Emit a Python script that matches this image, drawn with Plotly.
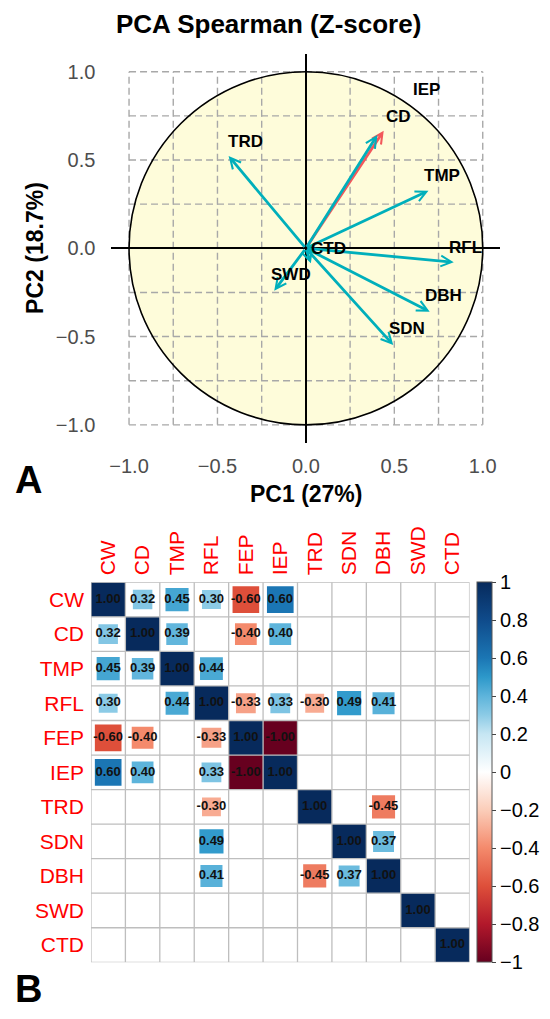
import math
import plotly.graph_objects as go
from plotly.colors import sample_colorscale

# ---------------- Panel A data (PCA variable loadings) ----------------
pca_vars = ["IEP", "TRD", "CD", "TMP", "RFL", "DBH", "SDN", "SWD", "CTD"]
pc1 = [0.44, -0.437, 0.404, 0.693, 0.836, 0.70, 0.494, -0.179, 0.028]
pc2 = [0.666, 0.523, 0.642, 0.326, -0.079, -0.359, -0.548, -0.24, -0.085]
arrow_colour_group = ["red", "teal", "teal", "teal", "teal", "teal", "teal", "teal", "teal"]

# label placement (repelled labels)
label_names = ["TRD", "CD", "IEP", "TMP", "RFL", "DBH", "SDN", "SWD", "CTD"]
label_x = [-0.344, 0.526, 0.682, 0.772, 0.905, 0.776, 0.573, -0.085, 0.128]
label_y = [0.604, 0.746, 0.901, 0.411, 0.004, -0.270, -0.453, -0.151, 0.0]

pca_ticks = [-1.0, -0.5, 0.0, 0.5, 1.0]
pca_ticktext = ["\u22121.0", "\u22120.5", "0.0", "0.5", "1.0"]
grid_vals = [-1.0, -0.75, -0.5, -0.25, 0.0, 0.25, 0.5, 0.75, 1.0]

# ---------------- Panel B data (Spearman correlation matrix) ----------------
traits = ["CW", "CD", "TMP", "RFL", "FEP", "IEP", "TRD", "SDN", "DBH", "SWD", "CTD"]
N = None
corr = [
    [1.00, 0.32, 0.45, 0.30, -0.60, 0.60, N, N, N, N, N],
    [0.32, 1.00, 0.39, N, -0.40, 0.40, N, N, N, N, N],
    [0.45, 0.39, 1.00, 0.44, N, N, N, N, N, N, N],
    [0.30, N, 0.44, 1.00, -0.33, 0.33, -0.30, 0.49, 0.41, N, N],
    [-0.60, -0.40, N, -0.33, 1.00, -1.00, N, N, N, N, N],
    [0.60, 0.40, N, 0.33, -1.00, 1.00, N, N, N, N, N],
    [N, N, N, -0.30, N, N, 1.00, N, -0.45, N, N],
    [N, N, N, 0.49, N, N, N, 1.00, 0.37, N, N],
    [N, N, N, 0.41, N, N, -0.45, 0.37, 1.00, N, N],
    [N, N, N, N, N, N, N, N, N, 1.00, N],
    [N, N, N, N, N, N, N, N, N, N, 1.00],
]
cbar_ticks = [1, 0.8, 0.6, 0.4, 0.2, 0, -0.2, -0.4, -0.6, -0.8, -1]
cbar_ticktext = ["1", "0.8", "0.6", "0.4", "0.2", "0",
                 "\u22120.2", "\u22120.4", "\u22120.6", "\u22120.8", "\u22121"]

# ---------------- styles ----------------
FONT = "Liberation Sans, Arial, sans-serif"
W, H = 550, 1019
TEAL = "#00AFBB"
RED = "#F2585B"
colorscale = [
    [0.00, "#67001F"], [0.10, "#B2182B"], [0.20, "#DE4F3A"], [0.30, "#F48A6C"],
    [0.40, "#FBCDB9"], [0.50, "#FFFFFF"], [0.60, "#C6E6F3"], [0.65, "#8CCBE6"],
    [0.70, "#5DB4DB"], [0.75, "#2D98CA"], [0.80, "#1B76B4"], [0.90, "#0F4B8B"],
    [1.00, "#072A5C"],
]


def px_x(p):
    return p / W


def px_y(p):
    return 1 - p / H


fig = go.Figure()
shapes = []
annotations = []

# ---------- Panel A ----------
shapes.append(dict(type="circle", xref="x", yref="y", x0=-1, x1=1, y0=-1, y1=1,
                   fillcolor="#FEFCDA", line=dict(width=0), layer="below"))
for g in grid_vals:
    shapes.append(dict(type="line", xref="x", yref="y", x0=g, x1=g, y0=-1, y1=1,
                       line=dict(color="#A8A8A8", width=1.4, dash="7px,4px"), layer="below"))
    shapes.append(dict(type="line", xref="x", yref="y", x0=-1, x1=1, y0=g, y1=g,
                       line=dict(color="#A8A8A8", width=1.4, dash="7px,4px"), layer="below"))
shapes.append(dict(type="circle", xref="x", yref="y", x0=-1, x1=1, y0=-1, y1=1,
                   line=dict(color="black", width=1.6), layer="below"))

for name, a, b, grp in zip(pca_vars, pc1, pc2, arrow_colour_group):
    annotations.append(dict(
        x=a, y=b, xref="x", yref="y", ax=0, ay=0, axref="x", ayref="y",
        text="", showarrow=True, arrowhead=5, arrowsize=0.75, arrowwidth=2.8,
        arrowcolor=RED if grp == "red" else TEAL, standoff=0, startstandoff=0))

for name, lx, ly in zip(label_names, label_x, label_y):
    annotations.append(dict(x=lx, y=ly, xref="x", yref="y", text=f"<b>{name}</b>",
                            showarrow=False, font=dict(size=17, color="black", family=FONT),
                            xanchor="center", yanchor="middle"))

annotations.append(dict(x=px_x(267), y=px_y(24), xref="paper", yref="paper",
                        text="<b>PCA Spearman (Z-score)</b>", showarrow=False,
                        font=dict(size=26, color="black", family=FONT),
                        xanchor="center", yanchor="middle"))
annotations.append(dict(x=px_x(305), y=px_y(494), xref="paper", yref="paper",
                        text="<b>PC1 (27%)</b>", showarrow=False,
                        font=dict(size=23, color="black", family=FONT),
                        xanchor="center", yanchor="middle"))
annotations.append(dict(x=px_x(33), y=px_y(248), xref="paper", yref="paper",
                        text="<b>PC2 (18.7%)</b>", showarrow=False, textangle=-90,
                        font=dict(size=23, color="black", family=FONT),
                        xanchor="center", yanchor="middle"))
annotations.append(dict(x=px_x(27), y=px_y(480), xref="paper", yref="paper",
                        text="<b>A</b>", showarrow=False,
                        font=dict(size=38, color="black", family=FONT),
                        xanchor="center", yanchor="middle"))
annotations.append(dict(x=px_x(27), y=px_y(989), xref="paper", yref="paper",
                        text="<b>B</b>", showarrow=False,
                        font=dict(size=38, color="black", family=FONT),
                        xanchor="center", yanchor="middle"))

# ---------- Panel B ----------
n = len(traits)
tx, ty, tt = [], [], []
for i, row in enumerate(corr):
    for j, v in enumerate(row):
        if v is None:
            continue
        s = math.sqrt(abs(v))
        cx, cy = j + 1, i + 1
        col = sample_colorscale(colorscale, [(v + 1) / 2])[0]
        shapes.append(dict(type="rect", xref="x2", yref="y2",
                           x0=cx - s / 2, x1=cx + s / 2, y0=cy - s / 2, y1=cy + s / 2,
                           fillcolor=col, line=dict(width=0), layer="between"))
        tx.append(cx)
        ty.append(cy)
        tt.append(f"<b>{v:.2f}</b>")

for k in range(n + 1):
    b = k + 0.5
    shapes.append(dict(type="line", xref="x2", yref="y2", x0=b, x1=b, y0=0.5, y1=n + 0.5,
                       line=dict(color="#BEBEBE", width=1.3), layer="between"))
    shapes.append(dict(type="line", xref="x2", yref="y2", x0=0.5, x1=n + 0.5, y0=b, y1=b,
                       line=dict(color="#BEBEBE", width=1.3), layer="between"))

fig.add_trace(go.Scatter(x=tx, y=ty, text=tt, mode="text", xaxis="x2", yaxis="y2",
                         textfont=dict(size=13, color="#111111", family=FONT),
                         hoverinfo="skip", showlegend=False))

fig.add_trace(go.Scatter(
    x=[1], y=[1], mode="markers", xaxis="x2", yaxis="y2", hoverinfo="skip", showlegend=False,
    marker=dict(size=0.1, opacity=0, color=[0], cmin=-1, cmax=1, colorscale=colorscale,
                showscale=True,
                colorbar=dict(x=px_x(476.7), xanchor="left", y=px_y(772.3), yanchor="middle",
                              len=380 / H, lenmode="fraction", thickness=15,
                              thicknessmode="pixels", xpad=0, ypad=0,
                              outlinewidth=1, outlinecolor="#555555",
                              ticks="outside", ticklen=4, tickcolor="#444444",
                              tickvals=cbar_ticks, ticktext=cbar_ticktext,
                              tickfont=dict(size=20, color="black", family=FONT)))))

fig.add_trace(go.Scatter(x=[0], y=[0], mode="markers", marker=dict(opacity=0, size=0.1),
                         hoverinfo="skip", showlegend=False, xaxis="x", yaxis="y"))

fig.update_layout(
    width=W, height=H, margin=dict(l=0, r=0, t=0, b=0),
    paper_bgcolor="white", plot_bgcolor="white",
    font=dict(family=FONT),
    showlegend=False,
    xaxis=dict(domain=[px_x(109.75), px_x(500.25)], range=[-1.1, 1.1], anchor="y",
               tickvals=pca_ticks, ticktext=pca_ticktext,
               tickfont=dict(size=20, color="#4D4D4D"), showgrid=False,
               zeroline=True, zerolinecolor="black", zerolinewidth=1.6,
               showline=False, ticks="", ticklabelstandoff=9, fixedrange=True),
    yaxis=dict(domain=[px_y(442.5), px_y(54.1)], range=[-1.1, 1.1], anchor="x",
               tickvals=pca_ticks, ticktext=pca_ticktext,
               tickfont=dict(size=20, color="#4D4D4D"), showgrid=False,
               zeroline=True, zerolinecolor="black", zerolinewidth=1.6,
               showline=False, ticks="", ticklabelstandoff=15, fixedrange=True),
    xaxis2=dict(domain=[px_x(89.3), px_x(469.3)], range=[0.5, n + 0.5], anchor="y2",
                side="top", tickvals=list(range(1, n + 1)), ticktext=traits,
                tickangle=-90, tickfont=dict(size=21, color="red"),
                showgrid=False, zeroline=False, showline=False, ticks="",
                ticklabelstandoff=6, fixedrange=True),
    yaxis2=dict(domain=[px_y(962.3), px_y(582.3)], range=[n + 0.5, 0.5], anchor="x2",
                tickvals=list(range(1, n + 1)), ticktext=traits,
                tickfont=dict(size=21, color="red"),
                showgrid=False, zeroline=False, showline=False, ticks="",
                ticklabelstandoff=6, fixedrange=True),
    shapes=shapes,
    annotations=annotations,
)

fig.write_html("out.html", config={"displayModeBar": False},
               post_script="document.body.style.margin='0px';document.body.style.padding='0px';")
